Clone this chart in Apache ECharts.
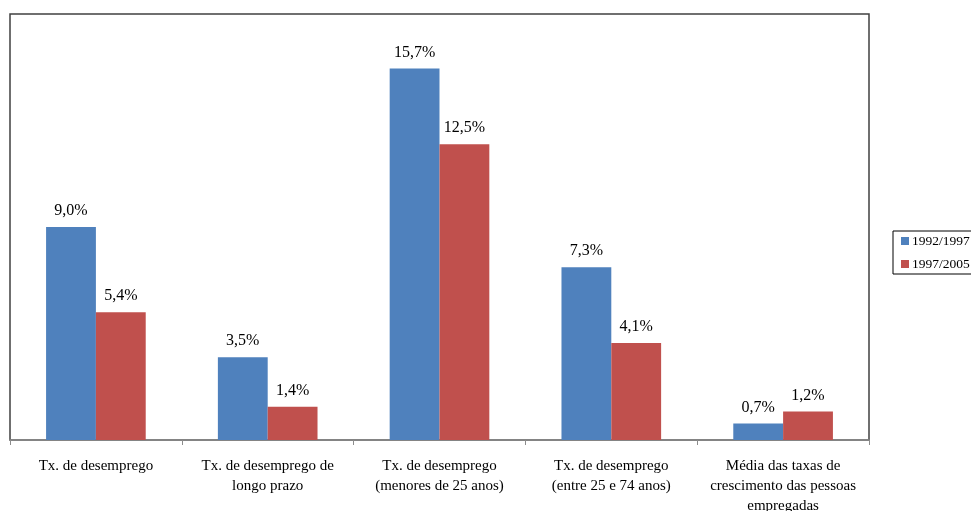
<!DOCTYPE html>
<html>
<head>
<meta charset="utf-8">
<script src="https://cdn.jsdelivr.net/npm/echarts@6/dist/echarts.min.js"></script>
<style>
html,body{margin:0;padding:0;background:#fff;}
#chart{width:971px;height:511px;}
</style>
</head>
<body>
<div id="chart"></div>
<script>
// Indicadores de emprego e desemprego por período
const categories = [
  'Tx. de desemprego',
  'Tx. de desemprego de\nlongo prazo',
  'Tx. de desemprego\n(menores de 25 anos)',
  'Tx. de desemprego\n(entre 25 e 74 anos)',
  'Média das taxas de\ncrescimento das pessoas\nempregadas'
];
const seriesNames = ['1992/1997', '1997/2005'];
const values1992_1997 = [9.0, 3.5, 15.7, 7.3, 0.7];
const values1997_2005 = [5.4, 1.4, 12.5, 4.1, 1.2];

const FONT = '"Liberation Serif", "Times New Roman", serif';
const fmt = p => p.value.toFixed(1).replace('.', ',') + '%';

const chart = echarts.init(document.getElementById('chart'));
chart.setOption({
  animation: false,
  backgroundColor: '#fff',
  textStyle: { fontFamily: FONT },
  grid: {
    left: 10, top: 14, right: 102, bottom: 71,
    containLabel: false, outerBoundsMode: 'none',
    show: true, borderColor: '#404040', borderWidth: 1.5
  },
  legend: {
    orient: 'vertical',
    left: 893, top: 231,
    itemWidth: 8, itemHeight: 8, itemGap: 9,
    icon: 'rect',
    borderColor: '#000', borderWidth: 1,
    padding: [3, 8, 3, 8],
    textStyle: { fontFamily: FONT, fontSize: 13.5, color: '#000', padding: [0, 0, 0, -2] },
    data: seriesNames
  },
  xAxis: {
    type: 'category',
    data: categories,
    axisLine: { lineStyle: { color: '#8c8c8c', width: 1.5 } },
    axisTick: { show: true, length: 5, lineStyle: { color: '#8c8c8c' } },
    axisLabel: {
      fontFamily: FONT, fontSize: 15, color: '#000',
      margin: 16, lineHeight: 20, interval: 0
    }
  },
  yAxis: {
    type: 'value',
    min: 0, max: 18,
    axisLine: { show: false },
    axisTick: { show: false },
    axisLabel: { show: false },
    splitLine: { show: false }
  },
  series: [
    {
      name: seriesNames[0], type: 'bar', data: values1992_1997,
      itemStyle: { color: '#4F81BD' },
      barGap: '0%', barCategoryGap: '42%',
      label: { show: true, position: 'top', distance: 8, formatter: fmt,
               fontFamily: FONT, fontSize: 16, color: '#000' }
    },
    {
      name: seriesNames[1], type: 'bar', data: values1997_2005,
      itemStyle: { color: '#C0504D' },
      barGap: '0%', barCategoryGap: '42%',
      label: { show: true, position: 'top', distance: 8, formatter: fmt,
               fontFamily: FONT, fontSize: 16, color: '#000' }
    }
  ]
});
</script>
</body>
</html>
